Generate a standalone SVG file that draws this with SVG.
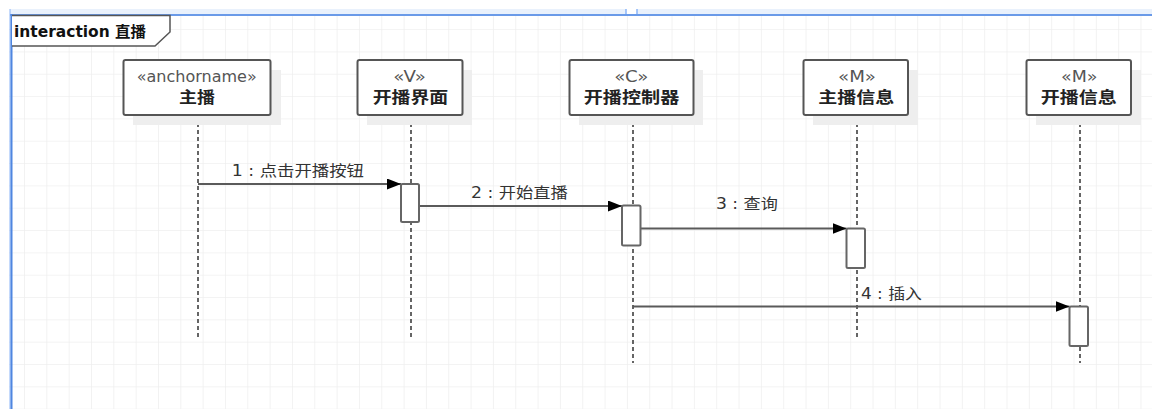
<svg xmlns="http://www.w3.org/2000/svg" width="1152" height="409" viewBox="0 0 1152 409">
<style>
.grid{stroke:#efefef;stroke-width:1.5;fill:none}
.box{fill:#ffffff;stroke:#555555;stroke-width:2}
.shadow{fill:#eeeeee}
.stereo{font-family:"DejaVu Sans","Noto Sans CJK SC",sans-serif;font-size:15px;fill:#555555}
.title{font-family:"Noto Sans CJK SC","DejaVu Sans",sans-serif;font-size:16px;font-weight:bold;fill:#222222}
.life{stroke:#333333;stroke-width:1.5;stroke-dasharray:4 3;fill:none}
.act{fill:#ffffff;stroke:#666666;stroke-width:2}
.msg{stroke:#5a5a5a;stroke-width:2;fill:none;marker-end:url(#arrow)}
.lbl{font-family:"DejaVu Sans","Noto Sans CJK SC",sans-serif;font-size:15px;fill:#333333}
</style>
<defs>
<pattern id="gridpat" patternUnits="userSpaceOnUse" x="1.67" y="6.75" width="22.33" height="22.33">
<path class="grid" d="M0,0 H22.33 M0,0 V22.33"/>
</pattern>
<marker id="arrow" markerUnits="userSpaceOnUse" viewBox="0 0 14 11" refX="14" refY="5.5" markerWidth="14" markerHeight="11" orient="auto">
<path d="M0,0 L14,5.5 L0,11 z" fill="#000000"/>
</marker>
</defs>
<rect x="0" y="0" width="1152" height="409" fill="#ffffff"/>
<rect x="9" y="15" width="1143" height="394" fill="url(#gridpat)"/>
<g id="chrome">
<rect x="10" y="9" width="616" height="5" fill="#e9f1fc"/>
<rect x="637" y="9" width="515" height="5" fill="#e9f1fc"/>
<line x1="626" y1="9" x2="626" y2="15" stroke="#8ab4f8" stroke-width="1.5"/>
<line x1="637" y1="9" x2="637" y2="15" stroke="#8ab4f8" stroke-width="1.5"/>
<rect x="10" y="14" width="1142" height="2" fill="#6a9ae8"/>
<line x1="10" y1="9" x2="10" y2="409" stroke="#8ab4f8" stroke-width="1"/>
<line x1="11.5" y1="14" x2="11.5" y2="409" stroke="#4f86e0" stroke-width="2"/>
</g>
<g id="frame">
<path d="M12,15.5 H170 V32 L155,46 H12" fill="#ffffff" stroke="#555555" stroke-width="1.5"/>
<text x="14" y="36.5" font-family="DejaVu Sans,'Noto Sans CJK SC',sans-serif" font-size="15" font-weight="bold" fill="#111111" textLength="132" lengthAdjust="spacingAndGlyphs">interaction 直播</text>
</g>
<g id="lifelines">
<line class="life" x1="198" y1="116" x2="198" y2="338"/>
<line class="life" x1="411" y1="116" x2="411" y2="338"/>
<line class="life" x1="633" y1="116" x2="633" y2="363"/>
<line class="life" x1="857" y1="116" x2="857" y2="338"/>
<line class="life" x1="1080" y1="116" x2="1080" y2="363"/>
</g>
<g id="node-zhubo">
<rect class="shadow" x="133" y="70" width="148" height="55"/>
<rect class="box" x="123.5" y="60" width="147" height="55" rx="2"/>
<text class="stereo" x="136.7" y="81.7" textLength="120" lengthAdjust="spacingAndGlyphs">«anchorname»</text>
<text class="title" x="179" y="103.3" textLength="36" lengthAdjust="spacingAndGlyphs">主播</text>
</g>
<g id="node-kaibojiemian">
<rect class="shadow" x="367" y="70" width="105" height="55"/>
<rect class="box" x="357.5" y="60" width="105" height="55" rx="2"/>
<text class="stereo" x="393.3" y="81.7" textLength="32.7" lengthAdjust="spacingAndGlyphs">«V»</text>
<text class="title" x="372.7" y="103.3" textLength="75.6" lengthAdjust="spacingAndGlyphs">开播界面</text>
</g>
<g id="node-kaibokongzhiqi">
<rect class="shadow" x="579" y="70" width="124" height="55"/>
<rect class="box" x="569.5" y="60" width="124" height="55" rx="2"/>
<text class="stereo" x="614.2" y="81.7" textLength="34.3" lengthAdjust="spacingAndGlyphs">«C»</text>
<text class="title" x="583.7" y="103.3" textLength="95.6" lengthAdjust="spacingAndGlyphs">开播控制器</text>
</g>
<g id="node-zhuboxinxi">
<rect class="shadow" x="813" y="70" width="105" height="55"/>
<rect class="box" x="803.5" y="60" width="104.5" height="55" rx="2"/>
<text class="stereo" x="838" y="81.7" textLength="38" lengthAdjust="spacingAndGlyphs">«M»</text>
<text class="title" x="818.3" y="103.3" textLength="76" lengthAdjust="spacingAndGlyphs">主播信息</text>
</g>
<g id="node-kaiboxinxi">
<rect class="shadow" x="1036" y="70" width="105" height="55"/>
<rect class="box" x="1026.5" y="60" width="104.5" height="55" rx="2"/>
<text class="stereo" x="1061" y="81.7" textLength="36.5" lengthAdjust="spacingAndGlyphs">«M»</text>
<text class="title" x="1040.8" y="103.3" textLength="76" lengthAdjust="spacingAndGlyphs">开播信息</text>
</g>
<g id="connectors">
<line class="msg" x1="198" y1="184" x2="401" y2="184"/>
<line class="msg" x1="419" y1="206" x2="622" y2="206"/>
<line class="msg" x1="641" y1="228.5" x2="846.5" y2="228.5"/>
<line class="msg" x1="633" y1="306.5" x2="1069.5" y2="306.5"/>
<text class="lbl" x="231.7" y="176" textLength="132.3" lengthAdjust="spacingAndGlyphs">1 : 点击开播按钮</text>
<text class="lbl" x="471" y="198.3" textLength="96.7" lengthAdjust="spacingAndGlyphs">2 : 开始直播</text>
<text class="lbl" x="716" y="209.3" textLength="61.8" lengthAdjust="spacingAndGlyphs">3 : 查询</text>
<text class="lbl" x="861" y="299" textLength="61" lengthAdjust="spacingAndGlyphs">4 : 插入</text>
</g>
<g id="activations">
<rect class="act" x="401" y="184" width="18" height="38" rx="1.5"/>
<rect class="act" x="622" y="205.5" width="18.5" height="40" rx="1.5"/>
<rect class="act" x="846.5" y="228.5" width="18.5" height="39.5" rx="1.5"/>
<rect class="act" x="1069.5" y="306.5" width="18.5" height="39.5" rx="1.5"/>
</g>
</svg>
